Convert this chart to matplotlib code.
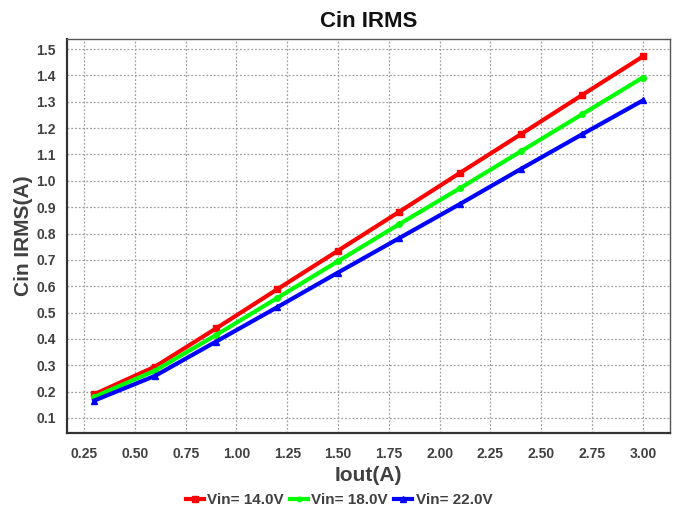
import numpy as np
import matplotlib
matplotlib.use("Agg")
import matplotlib.pyplot as plt

# =========================
# DATA
# =========================
iout = [0.3, 0.6, 0.9, 1.2, 1.5, 1.8, 2.1, 2.4, 2.7, 3.0]
irms_14v = [0.190, 0.295, 0.440, 0.588, 0.735, 0.882, 1.030, 1.177, 1.325, 1.472]
irms_18v = [0.180, 0.280, 0.415, 0.555, 0.695, 0.835, 0.972, 1.112, 1.252, 1.392]
irms_22v = [0.166, 0.260, 0.390, 0.520, 0.652, 0.782, 0.912, 1.045, 1.176, 1.305]
series_labels = ["Vin= 14.0V", "Vin= 18.0V", "Vin= 22.0V"]
x_ticks = [0.25, 0.50, 0.75, 1.00, 1.25, 1.50, 1.75, 2.00, 2.25, 2.50, 2.75, 3.00]
y_ticks = [0.1, 0.2, 0.3, 0.4, 0.5, 0.6, 0.7, 0.8, 0.9, 1.0, 1.1, 1.2, 1.3, 1.4, 1.5]

plt.rcParams['font.family'] = ['Liberation Sans', 'DejaVu Sans']
text_gray = "#404040"

fig = plt.figure(figsize=(6.78, 5.14), dpi=100)
ax = fig.add_axes([0.0988, 0.1576, 0.8892, 0.7664])

ax.plot(iout, irms_14v, color="#ff0000", lw=3, marker="s", ms=5, label=series_labels[0], zorder=3)
ax.plot(iout, irms_18v, color="#00ff00", lw=3, marker="o", ms=4, label=series_labels[1], zorder=3)
ax.plot(iout, irms_22v, color="#0000ff", lw=3, marker="^", ms=5, label=series_labels[2], zorder=3)

ax.set_xlim(0.166, 3.133)
ax.set_ylim(0.043, 1.538)
ax.set_xticks(x_ticks)
ax.set_xticklabels([f"{v:.2f}" for v in x_ticks])
ax.set_yticks(y_ticks)
ax.set_yticklabels([f"{v:.1f}" for v in y_ticks])
ax.tick_params(axis="x", length=0, labelsize=10, labelcolor=text_gray, pad=10)
ax.tick_params(axis="y", length=0, labelsize=10, labelcolor=text_gray, pad=8)
for lab in ax.get_xticklabels() + ax.get_yticklabels():
    lab.set_fontweight("bold")

ax.grid(True, color="#a0a0a0", linestyle=(0, (1.5, 1.5)), linewidth=0.9)

for side in ["left", "bottom"]:
    ax.spines[side].set_color("#333333")
    ax.spines[side].set_linewidth(1.6)
for side in ["top", "right"]:
    ax.spines[side].set_color("#555555")
    ax.spines[side].set_linewidth(1.0)

ax.set_title("Cin IRMS", fontsize=16, fontweight="bold", color="#111111", pad=9)
ax.set_xlabel("Iout(A)", fontsize=15, fontweight="bold", color=text_gray, labelpad=4)
ax.set_ylabel("Cin IRMS(A)", fontsize=15, fontweight="bold", color=text_gray)
ax.yaxis.set_label_coords(-0.057, 0.5)

leg = fig.legend(loc="center", bbox_to_anchor=(0.5, 0.027), ncol=3, frameon=False,
                 handlelength=1.2, handletextpad=0.2, columnspacing=0.4,
                 prop={"weight": "bold", "size": 11}, markerscale=0.8)
for t in leg.get_texts():
    t.set_color(text_gray)

fig.savefig("out.png", dpi=100)
